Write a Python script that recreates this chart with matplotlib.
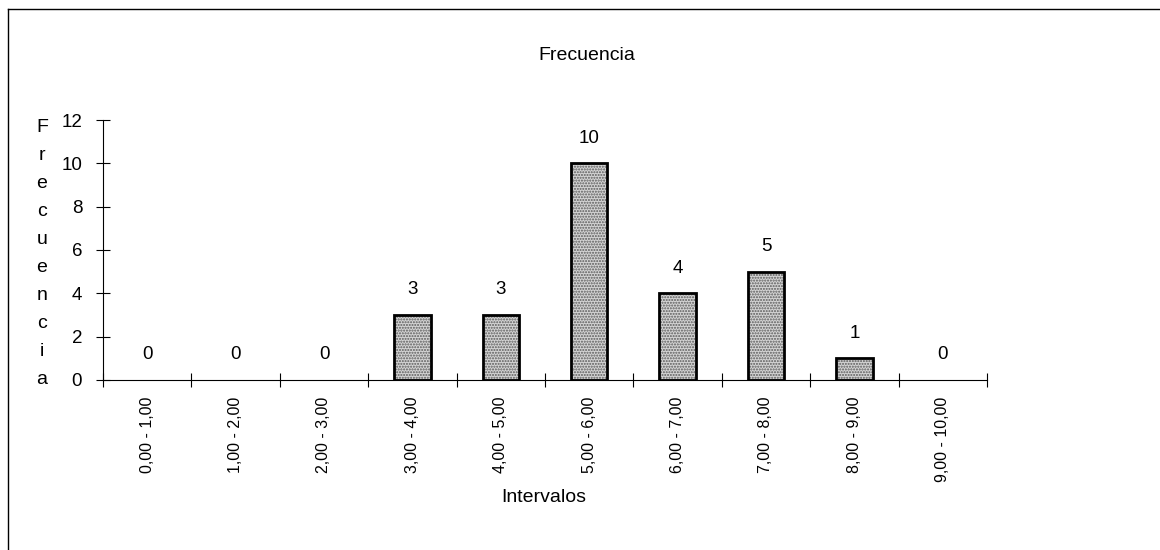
import matplotlib
matplotlib.use("Agg")
import matplotlib.pyplot as plt
from matplotlib.lines import Line2D
import numpy as np

plt.rcParams['font.family'] = ['Liberation Sans', 'DejaVu Sans']

# data
intervalos = ['0,00 - 1,00', '1,00 - 2,00', '2,00 - 3,00', '3,00 - 4,00', '4,00 - 5,00',
              '5,00 - 6,00', '6,00 - 7,00', '7,00 - 8,00', '8,00 - 9,00', '9,00 - 10,00']
frecuencia = [0, 0, 0, 3, 3, 10, 4, 5, 1, 0]
y_ticks = [0, 2, 4, 6, 8, 10, 12]

fig = plt.figure(figsize=(11.6, 5.5), dpi=100)
ax = fig.add_axes([103/1160, 1 - 380/550, (987 - 103)/1160, 260/550])

x = np.arange(len(intervalos))
# stipple fill, then black outline on top (no outline for empty classes)
ax.bar(x, frecuencia, width=0.41, color='#d4d4d4', hatch='......', edgecolor='#5a5a5a', linewidth=0)
lw = [2 if v > 0 else 0 for v in frecuencia]
ax.bar(x, frecuencia, width=0.41, fill=False, edgecolor='black', linewidth=lw)

for xi, v in zip(x, frecuencia):
    ax.annotate(str(v), (xi, v), xytext=(0, 12), textcoords='offset points',
                ha='center', va='bottom', fontsize=13.5)

ax.set_xlim(-0.5, len(intervalos) - 0.5)
ax.set_ylim(0, 12)
ax.set_yticks(y_ticks)
ax.tick_params(axis='y', direction='inout', length=10, width=0.8, pad=10, labelsize=13.5)

ax.set_xticks(x)
ax.set_xticklabels(intervalos, rotation=90, fontsize=11.5)
ax.tick_params(axis='x', which='major', length=0, pad=12)
ax.set_xticks(np.arange(-0.5, len(intervalos)), minor=True)
ax.tick_params(axis='x', which='minor', direction='inout', length=10, width=0.8)

for s in ['top', 'right']:
    ax.spines[s].set_visible(False)
ax.spines['left'].set_linewidth(0.8)
ax.spines['bottom'].set_linewidth(0.8)

# titles
fig.text(587/1160, 1 - 55/550, 'Frecuencia', ha='center', va='center', fontsize=14)
fig.text(544/1160, 1 - 498/550, 'Intervalos', ha='center', va='center', fontsize=14)

# vertical stacked y label
letras = 'Frecuencia'
for i, ch in enumerate(letras):
    fig.text(42/1160, 1 - (128 + i*28)/550, ch, ha='center', va='center', fontsize=14)

# outer frame (left and top only)
fig.add_artist(Line2D([8/1160, 8/1160], [0, 1 - 9/550], transform=fig.transFigure, color='black', lw=1))
fig.add_artist(Line2D([8/1160, 1], [1 - 9/550, 1 - 9/550], transform=fig.transFigure, color='black', lw=1))

fig.savefig('out.png', dpi=100)
